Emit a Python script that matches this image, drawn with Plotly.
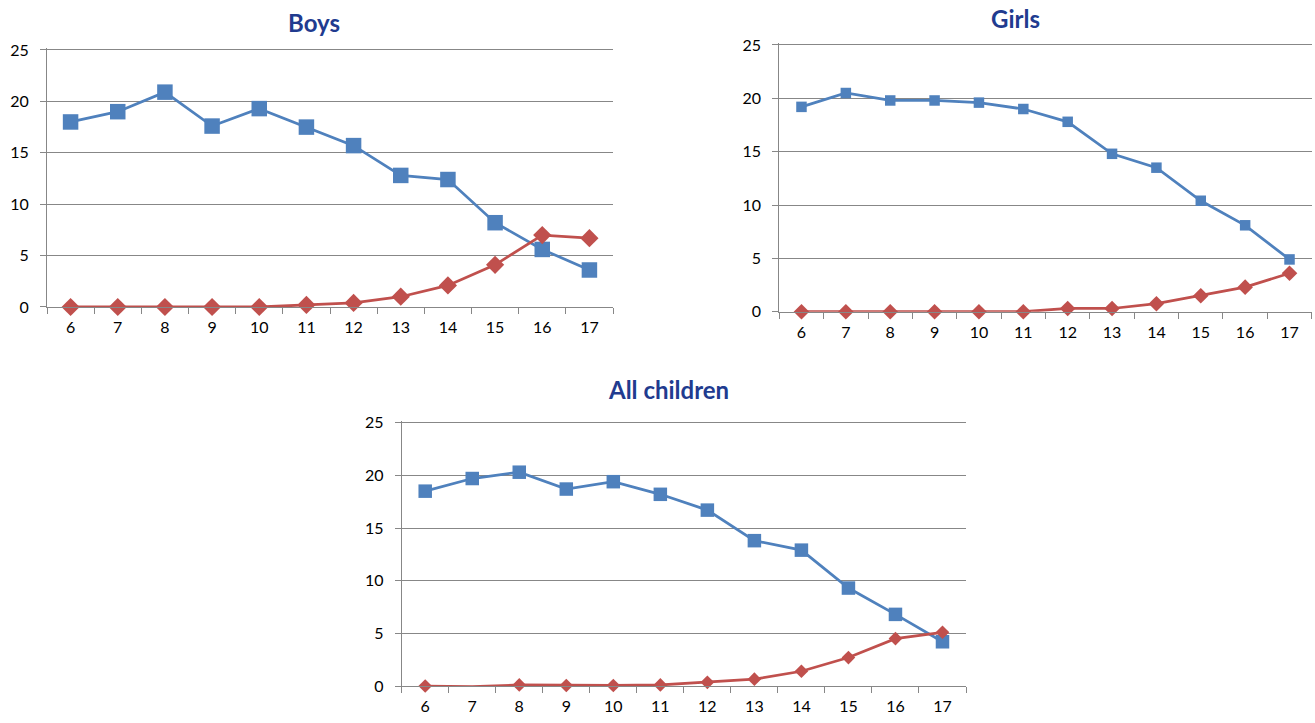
import plotly.graph_objects as go

# Ages shown along each x axis
ages = ["6", "7", "8", "9", "10", "11", "12", "13", "14", "15", "16", "17"]

# Boys
boys_blue = [18.0, 19.0, 20.9, 17.6, 19.3, 17.5, 15.7, 12.8, 12.4, 8.2, 5.6, 3.6]
boys_red = [0.0, 0.0, 0.0, 0.0, 0.0, 0.2, 0.4, 1.0, 2.1, 4.1, 7.0, 6.7]

# Girls
girls_blue = [19.2, 20.5, 19.8, 19.8, 19.6, 19.0, 17.8, 14.8, 13.5, 10.4, 8.1, 4.9]
girls_red = [0.0, 0.0, 0.0, 0.0, 0.0, 0.0, 0.3, 0.3, 0.75, 1.5, 2.3, 3.6]

# All children
all_blue = [18.5, 19.7, 20.3, 18.7, 19.4, 18.2, 16.7, 13.8, 12.9, 9.3, 6.8, 4.2]
all_red = [0.0, -0.05, 0.1, 0.05, 0.05, 0.1, 0.35, 0.65, 1.4, 2.7, 4.5, 5.1]

y_ticks = [0, 5, 10, 15, 20, 25]
Y_MAX = 25.0
Y_PAD = 0.15  # a little headroom so the top gridline is drawn

W, H = 1315, 723
BLUE = "#4F81BD"
RED = "#C0504D"
GRID = "#878787"
TITLE_COLOR = "#213B8F"
FONT = "Lato"

# panel: (title, blue, red, x0, x1, y of 25, y of 0, square size, diamond size,
#         title centre x, title centre y)
panels = [
    ("Boys", boys_blue, boys_red, 47, 613, 50, 307, 15.5, 14, 314, 22),
    ("Girls", girls_blue, girls_red, 779.3, 1311.7, 45, 311.7, 10.5, 12, 1015, 18),
    ("All children", all_blue, all_red, 401.7, 966, 422.7, 686, 13.5, 10.5, 668, 389),
]

fig = go.Figure()
layout = dict(
    width=W, height=H,
    margin=dict(l=0, r=0, t=0, b=0, autoexpand=False),
    paper_bgcolor="white", plot_bgcolor="white",
    showlegend=False,
    font=dict(family=FONT, size=15, color="#000000"),
)
annotations = []

for i, (title, blue, red, x0, x1, yt, yb, sq, dm, tx, ty) in enumerate(panels):
    n = "" if i == 0 else str(i + 1)
    xa, ya = "x" + n, "y" + n
    ppu = (yb - yt) / Y_MAX
    top = yt - Y_PAD * ppu
    fig.add_trace(go.Scatter(
        x=ages, y=blue, xaxis=xa, yaxis=ya, mode="lines+markers",
        line=dict(color=BLUE, width=2.75),
        marker=dict(symbol="square", size=sq, color=BLUE),
        cliponaxis=False,
    ))
    fig.add_trace(go.Scatter(
        x=ages, y=red, xaxis=xa, yaxis=ya, mode="lines+markers",
        line=dict(color=RED, width=2.75),
        marker=dict(symbol="diamond", size=dm, color=RED),
        cliponaxis=False,
    ))
    layout["xaxis" + n] = dict(
        domain=[x0 / W, x1 / W], anchor=ya,
        type="category", range=[-0.5, 11.5],
        showgrid=False, showline=True, linecolor=GRID, linewidth=1,
        ticks="outside", tickson="boundaries", ticklen=6, tickcolor=GRID,
        ticklabelstandoff=6, automargin=False,
        tickfont=dict(family=FONT, size=16, color="#000000"),
        fixedrange=True,
    )
    layout["yaxis" + n] = dict(
        domain=[1 - yb / H, 1 - top / H], anchor=xa,
        range=[0, Y_MAX + Y_PAD], tickvals=y_ticks,
        showgrid=True, gridcolor=GRID, gridwidth=1,
        showline=True, linecolor=GRID, linewidth=1,
        ticks="outside", ticklen=6, tickcolor=GRID,
        ticklabelstandoff=8, automargin=False,
        tickfont=dict(family=FONT, size=16, color="#000000"),
        zeroline=False, fixedrange=True,
    )
    annotations.append(dict(
        text="<b>" + title + "</b>", xref="paper", yref="paper",
        x=tx / W, y=1 - ty / H,
        xanchor="center", yanchor="middle", showarrow=False,
        font=dict(family=FONT, size=24, color=TITLE_COLOR),
    ))

layout["annotations"] = annotations
fig.update_layout(**layout)
fig.write_html("out.html")
